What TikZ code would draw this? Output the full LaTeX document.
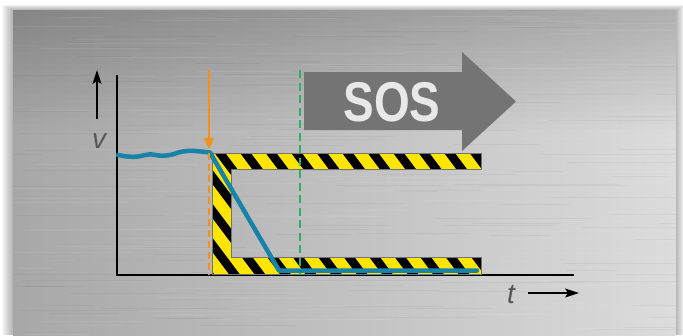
\documentclass[tikz,border=0pt]{standalone}
\usepackage{fontspec}
\setmainfont{Liberation Sans}
\usetikzlibrary{arrows.meta}
\definecolor{hzyellow}{HTML}{FFE500}
\definecolor{speedblue}{HTML}{1783A8}
\definecolor{trigorange}{HTML}{F5901E}
\definecolor{sosgreen}{HTML}{2BB06A}
\definecolor{sosgray}{HTML}{747474}
\definecolor{sostext}{HTML}{E8E8E8}
\definecolor{labelgray}{HTML}{575757}
\definecolor{mA}{HTML}{6E6E6E}
\definecolor{mB}{HTML}{888888}
\definecolor{mC}{HTML}{A2A2A2}
\definecolor{mD}{HTML}{BABABA}
\definecolor{mE}{HTML}{D2D2D2}
\definecolor{mF}{HTML}{E4E4E4}
\definecolor{mG}{HTML}{B4B4B4}
\definecolor{mH}{HTML}{6C6C6C}
\pgfdeclarehorizontalshading{metal}{100bp}{color(0bp)=(mA); color(7bp)=(mB); color(20bp)=(mC); color(43bp)=(mD); color(66bp)=(mE); color(82bp)=(mF); color(93bp)=(mG); color(100bp)=(mH)}
\tikzset{
  axisline/.style={black, line width=1.8pt, line join=miter},
  axisarrow/.style={black, line width=1.5pt, -{Stealth[length=14pt,width=9pt,inset=3pt]}},
  axislabel/.style={text=labelgray, font=\fontsize{28}{28}\itshape\selectfont, inner sep=0pt, anchor=base},
  hazardedge/.style={draw=black!55, line width=0.6pt},
  hazardstripe/.style={black, line width=8.6pt},
  speed/.style={speedblue, line width=4.5pt, line join=round, line cap=round},
  trigger/.style={trigorange, line width=2.2pt},
  sosline/.style={sosgreen, line width=2.7pt, dash pattern=on 8pt off 4.5pt},
  sosarrow/.style={fill=sosgray},
}
\begin{document}
\begin{tikzpicture}[x=1pt,y=-1pt]
\useasboundingbox (0,0) rectangle (683,335);
\fill[white] (0,0) rectangle (683,335);
% shadow around the panel
\foreach \i in {1,...,11} {
  \fill[black, opacity=0.028] (13-\i,10-0.5*\i) rectangle (676+0.8*\i,335);
}
% brushed metal panel
\shade[shading=metal] (13,10) rectangle (676,335);
\foreach \i in {0,...,19} {
  \pgfmathsetmacro\op{0.2*(1-\i/20)}
  \fill[black, opacity=\op] (13,10+6*\i) rectangle (676,16+6*\i);
}
\begin{scope}
  \clip (13,10) rectangle (676,335);
  \pgfmathsetseed{17}
  \foreach \i in {1,...,140} {
    \pgfmathsetmacro\yy{10+325*rnd}
    \pgfmathsetmacro\xx{-20+680*rnd}
    \pgfmathsetmacro\ll{25+140*rnd}
    \draw[white, opacity=0.07, line width=0.8pt] (\xx,\yy) -- ++(\ll,0);
  }
  \foreach \i in {1,...,110} {
    \pgfmathsetmacro\yy{10+325*rnd}
    \pgfmathsetmacro\xx{-20+680*rnd}
    \pgfmathsetmacro\ll{25+140*rnd}
    \draw[black, opacity=0.04, line width=0.8pt] (\xx,\yy) -- ++(\ll,0);
  }
\end{scope}
% SOS arrow
\fill[sosarrow] (304,72) -- (462,72) -- (462,52) -- (516,101.5) -- (462,151) -- (462,130) -- (304,130) -- cycle;
\node[text=sostext, font=\fontsize{56}{56}\bfseries\selectfont, xscale=0.82, inner sep=0pt, anchor=base] (sos) at (392,121.5) {SOS};
% axes
\coordinate (ytop) at (117,75);
\coordinate (origin) at (117,275);
\coordinate (xend) at (574,275);
\draw[axisline] (ytop) -- (origin) -- (xend);
\coordinate (varrowtail) at (97,119);
\coordinate (varrowtip) at (97,70);
\draw[axisarrow] (varrowtail) -- (varrowtip);
\node[axislabel] (vlabel) at (99,148) {v};
\coordinate (tarrowtail) at (528,293);
\coordinate (tarrowtip) at (579,293);
\draw[axisarrow] (tarrowtail) -- (tarrowtip);
\node[axislabel] (tlabel) at (511,303) {t};
% hazard U-shaped band
\fill[hzyellow] (212,153) -- (481,153) -- (481,169) -- (231,169) -- (231,257) -- (481,257) -- (481,274) -- (212,274) -- cycle;
\begin{scope}
  \clip (212,153) -- (481,153) -- (481,169) -- (231,169) -- (231,257) -- (481,257) -- (481,274) -- (212,274) -- cycle;
  \foreach \k in {-7,...,12} {
    \draw[hazardstripe] (220+25.5*\k-45,93) -- (220+25.5*\k+150,353);
  }
\end{scope}
\draw[hazardedge] (212,153) -- (481,153) -- (481,169) -- (231,169) -- (231,257) -- (481,257) -- (481,274) -- (212,274) -- cycle;
% SOS start line (green dashed)
\coordinate (greentop) at (300,70);
\coordinate (greenbot) at (300,275);
\draw[sosline] (greentop) -- (greenbot);
% speed curve
\draw[speed] plot[smooth, tension=0.6] coordinates {(118,155) (127,156.5) (137,156.6) (150,154.4) (162,155.8) (172,154.6) (180,152) (190,150.8) (201,151.5) (210,152.5)} -- (279,270.5) -- (477,270.5);
% trigger (orange)
\coordinate (orangetop) at (209,70);
\coordinate (orangetip) at (209,149);
\coordinate (orangebot) at (209,275);
\draw[trigger, -{Triangle[length=11pt,width=10pt]}] (orangetop) -- (orangetip);
\draw[trigger, dash pattern=on 7pt off 4pt] (209,153) -- (orangebot);
\end{tikzpicture}
\end{document}
